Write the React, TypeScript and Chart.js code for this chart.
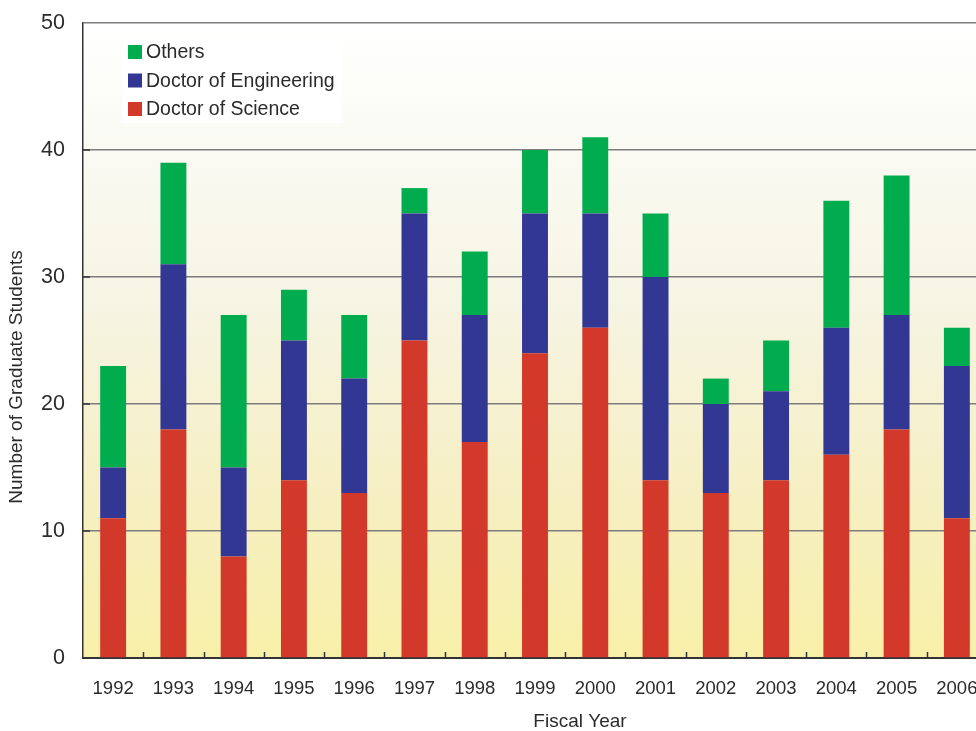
import React, { useEffect, useRef } from 'react';
import { Chart, registerables } from 'chart.js';

Chart.register(...registerables);

const years = ['1992', '1993', '1994', '1995', '1996', '1997', '1998', '1999', '2000', '2001', '2002', '2003', '2004', '2005', '2006'];
const doctorOfScience = [11, 18, 8, 14, 13, 25, 17, 24, 26, 14, 13, 14, 16, 18, 11];
const doctorOfEngineering = [4, 13, 7, 11, 9, 10, 10, 11, 9, 16, 7, 7, 10, 9, 12];
const others = [8, 8, 12, 4, 5, 2, 5, 5, 6, 5, 2, 4, 10, 11, 3];
const yMin = 0;
const yMax = 50;
const yStep = 10;

const FONT = '"Liberation Sans", Arial, Helvetica, sans-serif';
const TEXT = '#2b2b2b';

const backgroundPlugin = {
  id: 'bgGradient',
  beforeDraw(chart: any) {
    const { ctx, chartArea } = chart;
    if (!chartArea) return;
    const g = ctx.createLinearGradient(0, chartArea.top, 0, chartArea.bottom);
    g.addColorStop(0, '#FFFFFF');
    g.addColorStop(0.2, '#FAFAF3');
    g.addColorStop(0.45, '#F6F4E2');
    g.addColorStop(0.75, '#F6EFC2');
    g.addColorStop(1, '#F8F0A9');
    ctx.save();
    ctx.fillStyle = g;
    ctx.fillRect(chartArea.left, chartArea.top, chartArea.right - chartArea.left, chartArea.bottom - chartArea.top);
    ctx.restore();
  },
};

const innerTicksPlugin = {
  id: 'innerTicks',
  afterDatasetsDraw(chart: any) {
    const { ctx, chartArea } = chart;
    const xs = chart.scales.x;
    const ys = chart.scales.y;
    ctx.save();
    ctx.strokeStyle = '#333333';
    ctx.lineWidth = 1.5;
    ctx.beginPath();
    for (let i = 1; i < years.length; i++) {
      const x = Math.round((xs.getPixelForValue(i - 1) + xs.getPixelForValue(i)) / 2) + 0.5;
      ctx.moveTo(x, chartArea.bottom);
      ctx.lineTo(x, chartArea.bottom - 6);
    }
    ys.ticks.forEach((t: any) => {
      if (t.value <= yMin || t.value >= yMax) return;
      const y = ys.getPixelForValue(t.value);
      ctx.moveTo(chartArea.left, y);
      ctx.lineTo(chartArea.left + 7, y);
    });
    ctx.stroke();
    ctx.restore();
  },
};

const overlayPlugin = {
  id: 'overlay',
  afterDraw(chart: any) {
    const { ctx, chartArea } = chart;
    ctx.save();
    // legend
    const lx = chartArea.left + 39;
    const ly = chartArea.top + 14;
    ctx.fillStyle = '#FFFFFF';
    ctx.fillRect(lx, ly, 220, 86);
    const ds = chart.data.datasets.slice().reverse();
    ctx.font = `19.5px ${FONT}`;
    ctx.textBaseline = 'middle';
    ctx.textAlign = 'left';
    ds.forEach((d: any, i: number) => {
      const cy = ly + 15 + i * 28.5;
      ctx.fillStyle = d.backgroundColor;
      ctx.fillRect(lx + 6, cy - 7, 14, 14);
      ctx.fillStyle = TEXT;
      ctx.fillText(d.label, lx + 24, cy + 1);
    });
    // axis titles
    ctx.fillStyle = TEXT;
    ctx.font = `19px ${FONT}`;
    ctx.textAlign = 'center';
    ctx.textBaseline = 'middle';
    ctx.fillText('Fiscal Year', 580, 722);
    ctx.translate(17, 377);
    ctx.rotate(-Math.PI / 2);
    ctx.fillText('Number of Graduate Students', 0, 0);
    ctx.restore();
  },
};

export default function App() {
  const ref = useRef<HTMLCanvasElement | null>(null);

  useEffect(() => {
    if (!ref.current) return;
    const chart = new Chart(ref.current, {
      type: 'bar',
      data: {
        labels: years,
        datasets: [
          { label: 'Doctor of Science', data: doctorOfScience, backgroundColor: '#D2392B' },
          { label: 'Doctor of Engineering', data: doctorOfEngineering, backgroundColor: '#333794' },
          { label: 'Others', data: others, backgroundColor: '#00AC4E' },
        ],
      },
      options: {
        responsive: false,
        animation: false,
        layout: { padding: { top: 23, right: 3, left: 0, bottom: 0 } },
        datasets: { bar: { barPercentage: 0.43, categoryPercentage: 1 } },
        plugins: {
          legend: { display: false },
          tooltip: { enabled: false },
          title: { display: false },
        },
        scales: {
          x: {
            stacked: true,
            grid: { display: true, drawOnChartArea: false, drawTicks: false, color: 'rgba(0,0,0,0)' },
            border: { display: true, color: '#333333', width: 2 },
            ticks: { font: { family: FONT, size: 18.5 }, color: TEXT, padding: 20, maxRotation: 0, autoSkip: false },
            afterFit(scale: any) {
              scale.height = 73;
              scale.paddingLeft = 0;
              scale.paddingRight = 0;
            },
          },
          y: {
            stacked: true,
            min: yMin,
            max: yMax,
            ticks: { stepSize: yStep, font: { family: FONT, size: 21.5 }, color: TEXT, padding: 18 },
            grid: { color: '#7d7d7d', lineWidth: 1.5, drawTicks: false },
            border: { display: true, color: '#333333', width: 1.5 },
            afterFit(scale: any) {
              scale.width = 83;
              scale.paddingTop = 0;
              scale.paddingBottom = 0;
            },
          },
        },
      },
      plugins: [backgroundPlugin, innerTicksPlugin, overlayPlugin],
    });
    return () => chart.destroy();
  }, []);

  return (
    <div style={{ position: 'fixed', left: 0, top: 0, width: 976, height: 731, overflow: 'hidden', background: '#FFFFFF' }}>
      <canvas ref={ref} width={990} height={731} style={{ display: 'block' }} />
    </div>
  );
}
